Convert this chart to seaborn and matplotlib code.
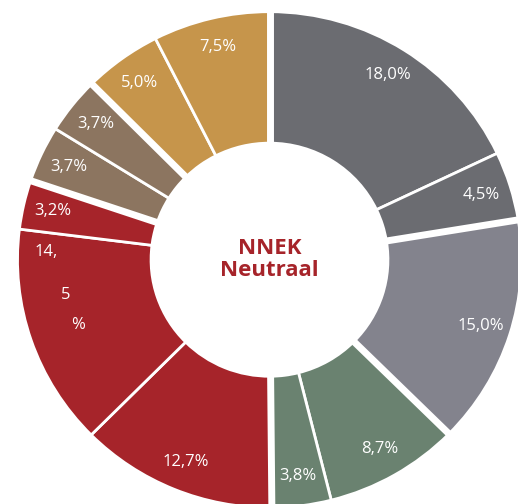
import numpy as np
import matplotlib
matplotlib.use('Agg')
import matplotlib.pyplot as plt
import seaborn as sns

# Data (clockwise from 12 o'clock)
groups = ['grijs', 'grijs', 'lichtgrijs', 'groen', 'groen', 'rood', 'rood', 'rood',
          'bruin', 'bruin', 'goud', 'goud']
values = [18.0, 4.5, 15.0, 8.7, 3.8, 12.7, 14.5, 3.2, 3.7, 3.7, 5.0, 7.5]
center_text = 'NNEK\nNeutraal'

group_colors = {
    'grijs': '#6b6c71',
    'lichtgrijs': '#83838d',
    'groen': '#6a8270',
    'rood': '#a6242a',
    'bruin': '#8c7560',
    'goud': '#c6954b',
}

sns.set_theme(style='white')
plt.rcParams['font.family'] = ['Open Sans', 'DejaVu Sans']

fig = plt.figure(figsize=(5.18, 5.04), dpi=100)
ax = fig.add_axes([0, 0, 1, 1])

colors = [group_colors[g] for g in groups]
wedges, _ = ax.pie(values, colors=colors, startangle=90, counterclock=False,
                   radius=1.0,
                   wedgeprops=dict(width=0.53, edgecolor='white', linewidth=2.0))

# thicker white gaps between groups
total = sum(values)
cum = np.cumsum([0] + values) / total
for i in range(len(values)):
    prev = groups[i - 1]
    if groups[i] != prev:
        ang = np.deg2rad(90 - 360 * cum[i])
        r = np.array([0.4, 1.05])
        ax.plot(r * np.cos(ang), r * np.sin(ang), color='white', lw=5,
                solid_capstyle='butt', zorder=3)

# labels
for i, v in enumerate(values):
    mid = (cum[i] + cum[i + 1]) / 2
    ang = np.deg2rad(90 - 360 * mid)
    x, y = 0.88 * np.cos(ang), 0.88 * np.sin(ang)
    txt = f'{v:.1f}'.replace('.', ',') + '%'
    if v == 14.5:
        # label wraps oddly in the original
        parts = txt.split(',')
        pieces = [(parts[0] + ',', (-9.7, 56.7)), (parts[1][:-1], (4, 25.7)), ('%', (13.3, 4.1))]
        for s, off in pieces:
            ax.annotate(s, (x, y), xytext=off, textcoords='offset points',
                        ha='center', va='center', color='white', fontsize=12, zorder=4)
    else:
        ax.text(x, y, txt, ha='center', va='center', color='white', fontsize=12, zorder=4)

ax.text(0, 0.0, center_text, ha='center', va='center', color='#a6242a',
        fontsize=16, fontweight='bold', linespacing=1.1)

ax.set_aspect('auto')
ax.set_xlim(-269.5 / 252, (518 - 269.5) / 252)
ax.set_ylim(-(504 - 259.7) / 248, 259.7 / 248)
ax.axis('off')

fig.savefig('out.png', dpi=100)
